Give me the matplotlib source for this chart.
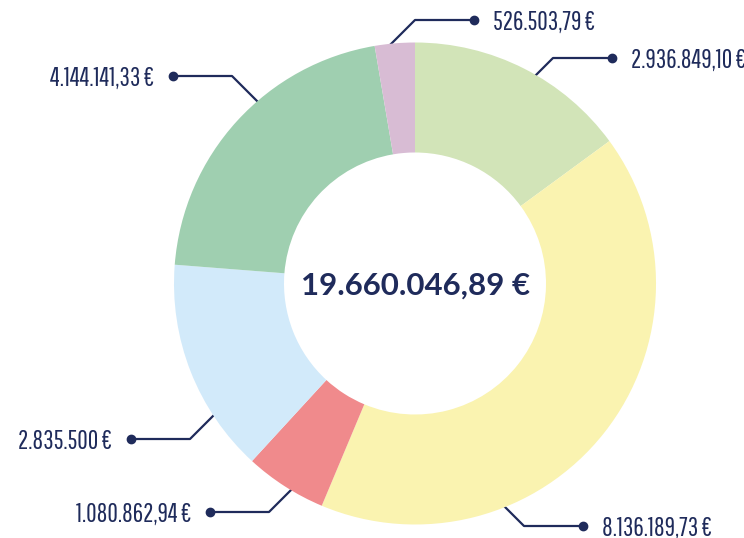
import numpy as np
import matplotlib
matplotlib.use("Agg")
import matplotlib.pyplot as plt

# ---- data ----
labels = ["2.936.849,10 €", "8.136.189,73 €", "1.080.862,94 €",
          "2.835.500 €", "4.144.141,33 €", "526.503,79 €"]
values = [2936849.10, 8136189.73, 1080862.94, 2835500.00, 4144141.33, 526503.79]
colors = ["#d2e4b8", "#faf3b0", "#f08a8c", "#d2eafa", "#9fcfb0", "#d8bcd4"]
total_label = "19.660.046,89 €"

# ---- layout (pixel coords, y from top) ----
W, H = 744, 538
cx, cy = 415, 283.5
R_out, R_in = 241, 131
# elbow point of each leader line and the side the label sits on
elbows = [(553, 58), (524, 526), (269, 512), (190, 439), (232, 76), (415, 20)]
sides = [1, 1, -1, -1, -1, 1]

navy = "#1f2b5b"

fig = plt.figure(figsize=(W / 100, H / 100), dpi=100)
ax = fig.add_axes([0, 0, 1, 1])
ax.pie(values, colors=colors, startangle=90, counterclock=False,
       radius=R_out, center=(cx, H - cy),
       wedgeprops=dict(width=R_out - R_in, linewidth=0, zorder=3))
ax.set_xlim(0, W)
ax.set_ylim(0, H)
ax.set_aspect("equal")
ax.axis("off")

label_font = ["Pathway Gothic One", "DejaVu Sans"]
for lab, (ex, ey), side in zip(labels, elbows, sides):
    sx = -side
    sy = 1 if cy > ey else -1
    # solve |E + t*d - C| = R_out for t (pixel coords)
    px, py = ex - cx, ey - cy
    a = 2.0
    b = 2 * (px * sx + py * sy)
    c = px * px + py * py - R_out ** 2
    t = (-b - np.sqrt(b * b - 4 * a * c)) / (2 * a)
    t += 3
    x0, y0 = ex + sx * t, ey + sy * t
    dx = ex + side * 59
    ax.plot([x0, ex, dx], [H - y0, H - ey, H - ey], color=navy, lw=1.6,
            zorder=2, solid_capstyle="butt")
    ax.plot([dx], [H - ey], "o", color=navy, ms=6, zorder=4)
    ax.text(dx + side * 19, H - ey, lab, ha="left" if side > 0 else "right",
            va="center_baseline", fontsize=18.5, color=navy, family=label_font)

ax.text(cx + 1, H - cy, total_label, ha="center", va="center_baseline", fontsize=22.5,
        fontweight="bold", color=navy, family=["Lato", "DejaVu Sans"])

fig.savefig("out.png", dpi=100)
